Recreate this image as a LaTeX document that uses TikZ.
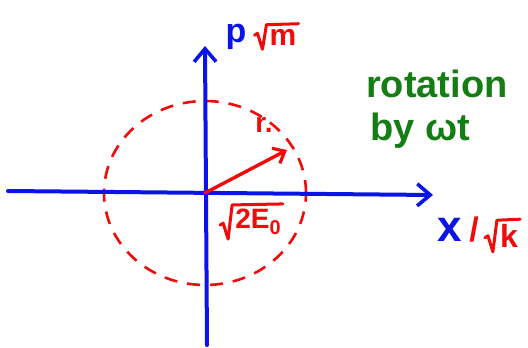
\documentclass[tikz,border=0pt]{standalone}
\usepackage{fontspec}
\setmainfont{Liberation Sans}
\usetikzlibrary{arrows.meta,calc}
\definecolor{penblue}{RGB}{10,20,230}
\definecolor{penred}{RGB}{240,10,10}
\definecolor{pengreen}{RGB}{20,125,20}
\tikzset{
  axis/.style={penblue, line width=4pt, line cap=round, -{Straight Barb[length=13pt,width=22pt,line width=3.6pt]}},
  vecline/.style={penred, line width=3.4pt, line cap=round, -{Straight Barb[length=10pt,width=17pt,line width=3.2pt]}},
  orbit/.style={penred, line width=2.6pt, dash pattern=on 13pt off 10pt},
  rootline/.style={penred, line width=3pt, line cap=round, line join=round},
  bluelbl/.style={text=penblue, font=\bfseries\fontsize{#1}{#1}\selectfont, inner sep=0pt},
  bluelbl/.default=34,
  redlbl/.style={text=penred, font=\bfseries\fontsize{#1}{#1}\selectfont, inner sep=0pt},
  redlbl/.default=28,
  greenlbl/.style={text=pengreen, font=\bfseries\fontsize{38}{38}\selectfont, inner sep=0pt, anchor=base west},
}
\newcommand{\drawradical}[1]{%
  \draw[rootline] ($(#1.south west)+(-15,10)$) -- ($(#1.south west)+(-12,12)$)
    -- ($(#1.south west)+(-7,-4)$) -- ($(#1.north west)+(-3,4)$) -- ($(#1.north east)+(2,5)$);}
\begin{document}
\begin{tikzpicture}[x=1pt,y=1pt]
\useasboundingbox (0,0) rectangle (528,-348);
\coordinate (O) at (205,-193);
\coordinate (xl) at (8,-191);
\coordinate (xr) at (433,-195);
\coordinate (yb) at (207,-345);
\coordinate (yt) at (205,-46);
\coordinate (r) at (287,-150);
\draw[orbit] (O) ellipse [x radius=101, y radius=92];
\draw[axis] (xl) -- (xr);
\draw[axis] (yb) -- (yt);
\draw[vecline] (O) -- (r);
% labels
\node[bluelbl] (p) at (236,-37) {p};
\node[redlbl=30] (m) at (283,-37) {m};
\drawradical{m}
\node[bluelbl=44] (x) at (450,-230) {x};
\node[redlbl=34] (sl) at (474,-230) {/};
\node[redlbl=32] (k) at (509,-236) {k};
\drawradical{k}
\node[redlbl] (E) at (258,-222) {2E\raisebox{-6pt}{\fontsize{20}{20}\selectfont 0}};
\drawradical{E}
\node[redlbl] (rl) at (264,-125) {r.};
\node[greenlbl] (rot1) at (366,-97) {rotation};
\node[greenlbl] (rot2) at (370,-140) {by ωt};
\end{tikzpicture}
\end{document}
